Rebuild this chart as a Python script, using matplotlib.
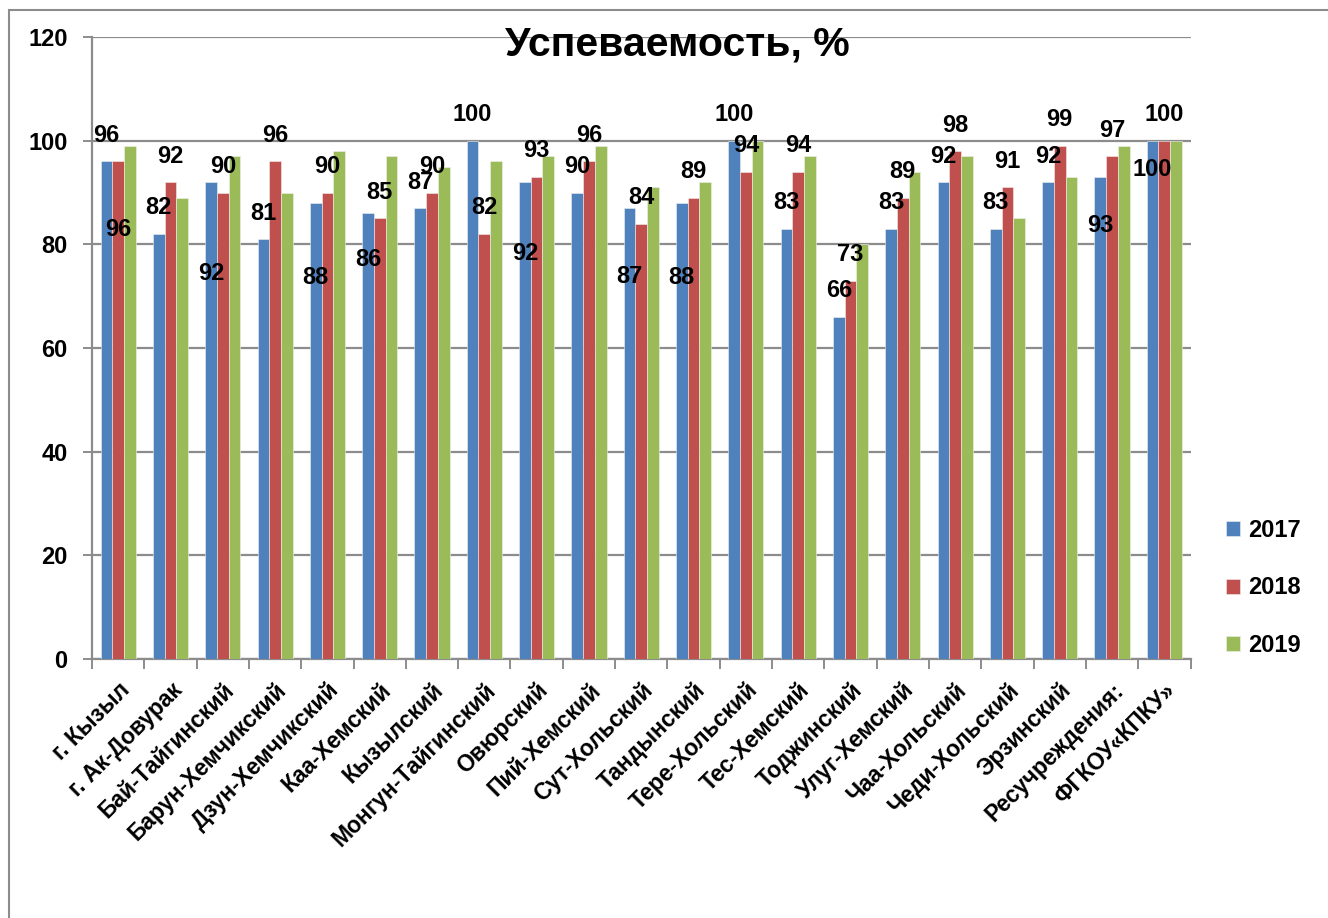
import numpy as np
import matplotlib
matplotlib.use("Agg")
import matplotlib.pyplot as plt
from matplotlib.patches import Rectangle

plt.rcParams["font.family"] = ["Liberation Sans", "DejaVu Sans"]
plt.rcParams["font.weight"] = "bold"

# ---- data ----
districts = [
    "г. Кызыл", "г. Ак-Довурак", "Бай-Тайгинский", "Барун-Хемчикский",
    "Дзун-Хемчикский", "Каа-Хемский", "Кызылский", "Монгун-Тайгинский",
    "Овюрский", "Пий-Хемский", "Сут-Хольский", "Тандынский",
    "Тере-Хольский", "Тес-Хемский", "Тоджинский", "Улуг-Хемский",
    "Чаа-Хольский", "Чеди-Хольский", "Эрзинский", "Ресучреждения:",
    "ФГКОУ«КПКУ»",
]
years = ["2017", "2018", "2019"]
v2017 = [96, 82, 92, 81, 88, 86, 87, 100, 92, 90, 87, 88, 100, 83, 66, 83, 92, 83, 92, 93, 100]
v2018 = [96, 92, 90, 96, 90, 85, 90, 82, 93, 96, 84, 89, 94, 94, 73, 89, 98, 91, 99, 97, 100]
v2019 = [99, 89, 97, 90, 98, 97, 95, 96, 97, 99, 91, 92, 100, 97, 80, 94, 97, 85, 93, 99, 100]

# label placement (pixel offsets of label centre from bar top), only 2017 and 2018 are labelled
dy2017 = [26, 26, -91, 26, -75, -46, 26, 26, -71, 26, -68, -75, 26, 26, 26, 26, 26, 26, 26, -49, -29]
dy2018 = [-68, 26, 26, 26, 26, 26, 26, 26, 26, 26, 26, 26, 26, 26, 26, 26, 26, 26, 26, 26, 26]

colors = ["#4F81BD", "#C0504D", "#9BBB59"]
grid_c = "#8C8C8C"

W, H = 1328, 918
fig = plt.figure(figsize=(W / 100, H / 100), dpi=100)
ax = fig.add_axes([92 / W, 1 - 659 / H, (1190.5 - 92) / W, (659 - 37) / H])

# chart area frame
fig.patches.append(Rectangle((9 / W, -0.1), 1.2, 1 - 10 / H + 0.1, transform=fig.transFigure,
                             fill=False, edgecolor="#8C8C8C", linewidth=1.5))

x = np.arange(len(districts))
bw = 0.224
series = [v2017, v2018, v2019]
bars = []
for i, (vals, c, yr) in enumerate(zip(series, colors, years)):
    b = ax.bar(x + (i - 1) * bw, vals, width=bw, color=c, edgecolor="#F0F0F0", linewidth=0.4,
               label=yr, zorder=3)
    bars.append(b)

for i, (vals, dys) in enumerate([(v2017, dy2017), (v2018, dy2018)]):
    for j, (v, d) in enumerate(zip(vals, dys)):
        ax.annotate(str(v), (x[j] + (i - 1) * bw, v), xytext=(0, d), textcoords="offset pixels",
                    ha="center", va="center", fontsize=17, fontweight="bold", zorder=5)

ax.set_ylim(0, 120)
ax.set_xlim(-0.5, len(districts) - 0.5)
ax.set_yticks(range(0, 121, 20))
ax.yaxis.grid(True, color=grid_c, linewidth=1.6, zorder=0)
ax.set_axisbelow(True)
for s in ["top", "right"]:
    ax.spines[s].set_visible(False)
for s in ["left", "bottom"]:
    ax.spines[s].set_color(grid_c)
    ax.spines[s].set_linewidth(1.6)

ax.tick_params(axis="y", length=6.5, width=1.4, color=grid_c, pad=11, labelsize=17)
ax.set_xticks(x)
ax.set_xticks(np.arange(-0.5, len(districts), 1), minor=True)
ax.tick_params(axis="x", which="major", length=0, pad=14, labelsize=16.5)
ax.tick_params(axis="x", which="minor", length=7, width=1.4, color=grid_c)
ax.set_xticklabels(districts, rotation=45, ha="right", rotation_mode="anchor")
for lab in ax.get_yticklabels() + ax.get_xticklabels():
    lab.set_fontweight("bold")

fig.text(677.5 / W, 1 - 45 / H, "Успеваемость, %", ha="center", va="center",
         fontsize=29.5, fontweight="bold")

fig.legend(handles=bars, labels=years, loc="center left",
           bbox_to_anchor=(1226 / W, 1 - 588 / H), frameon=False,
           handlelength=0.6, handleheight=0.6, handletextpad=0.35, labelspacing=1.45,
           borderpad=0, borderaxespad=0, prop={"weight": "bold", "size": 17})

fig.savefig("out.png", dpi=100)
